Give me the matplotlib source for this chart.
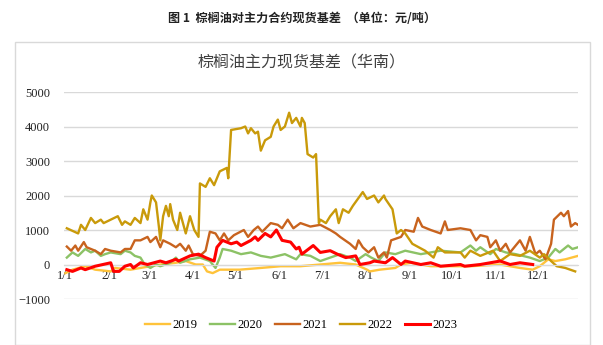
import numpy as np
import matplotlib
matplotlib.use('Agg')
import matplotlib.pyplot as plt
from matplotlib.patches import Rectangle

plt.rcParams['font.family'] = ['Noto Sans CJK SC', 'DejaVu Sans']

# x = day of year (0 = 1/1), y = basis value (yuan/ton)
d2019 = [0, 5, 14, 21, 32, 35, 46, 60, 67, 78, 85, 92, 97, 100, 104, 109, 123, 138, 152, 166, 180, 194, 205, 213, 215, 222, 233, 237, 244, 258, 286, 307, 321, 330, 335, 341, 346, 353, 362]
v2019 = [-250, -150, -50, -150, -200, -100, -150, -50, 0, 50, 100, 0, 0, -200, -250, -150, -150, -100, -50, -50, 0, 50, 0, -150, -200, -150, -100, 0, 50, -50, -50, 0, -100, -150, -50, 150, 100, 150, 250]

d2020 = [1, 5, 9, 14, 18, 21, 25, 28, 32, 39, 42, 46, 49, 53, 56, 60, 64, 67, 74, 78, 81, 88, 95, 102, 104, 106, 109, 111, 117, 124, 131, 138, 145, 155, 163, 166, 173, 180, 194, 201, 205, 212, 216, 221, 226, 233, 240, 251, 265, 279, 286, 290, 293, 300, 304, 311, 318, 328, 335, 341, 346, 349, 355, 358, 362]
v2020 = [200, 350, 250, 450, 350, 400, 250, 300, 350, 300, 400, 350, 250, 200, 0, -100, 0, -50, 50, 200, 50, 150, 200, 100, 0, -100, 200, 450, 400, 300, 350, 250, 200, 300, 150, 300, 250, 100, 300, 200, 100, 300, 200, 100, 350, 300, 400, 300, 400, 350, 550, 400, 500, 300, 450, 350, 300, 200, 100, 200, 450, 350, 550, 450, 500]

d2021 = [1, 4, 7, 9, 13, 15, 18, 21, 25, 28, 32, 39, 42, 46, 49, 53, 58, 60, 64, 67, 69, 74, 78, 81, 85, 87, 90, 95, 99, 102, 106, 109, 112, 115, 119, 126, 129, 133, 136, 139, 145, 150, 153, 157, 161, 166, 173, 180, 187, 191, 194, 201, 205, 207, 210, 214, 218, 221, 225, 227, 230, 237, 240, 246, 249, 252, 258, 265, 268, 270, 279, 286, 290, 293, 298, 300, 304, 307, 311, 314, 321, 325, 328, 332, 335, 339, 343, 345, 350, 352, 355, 357, 360, 362]
v2021 = [520, 400, 550, 400, 650, 500, 450, 400, 300, 450, 400, 350, 450, 450, 700, 700, 800, 650, 800, 500, 700, 600, 500, 600, 400, 550, 300, 250, 400, 950, 900, 700, 900, 700, 850, 1000, 800, 1000, 1100, 950, 1200, 1150, 1050, 1300, 1050, 1200, 1100, 1150, 1000, 900, 800, 600, 450, 700, 500, 350, 500, 200, 350, 200, 700, 800, 1000, 950, 1350, 1100, 1000, 900, 1250, 1000, 1050, 1000, 700, 850, 800, 500, 700, 400, 600, 350, 700, 400, 800, 300, 400, 150, 600, 1300, 1500, 1400, 1550, 1100, 1200, 1150]

d2022 = [1, 9, 11, 14, 18, 21, 25, 27, 37, 40, 42, 46, 49, 53, 55, 58, 60, 61, 64, 66, 67, 69, 71, 73, 74, 76, 79, 81, 85, 88, 91, 94, 95, 99, 102, 105, 109, 114, 115, 117, 124, 127, 129, 131, 134, 136, 138, 141, 145, 147, 150, 152, 155, 158, 160, 163, 166, 167, 169, 171, 175, 177, 179, 180, 184, 187, 191, 193, 196, 200, 203, 210, 213, 218, 221, 225, 226, 231, 234, 237, 240, 245, 254, 260, 263, 268, 279, 282, 286, 293, 302, 307, 314, 321, 328, 335, 338, 343, 347, 353, 360]
v2022 = [1050, 900, 1150, 1000, 1350, 1200, 1300, 1200, 1400, 1150, 1250, 1150, 1350, 1200, 1600, 1300, 1800, 2000, 1800, 1100, 700, 1400, 1700, 1400, 1750, 1300, 1000, 1500, 900, 1400, 1000, 800, 2350, 2250, 2500, 2300, 2700, 2800, 2500, 3900, 3950, 4000, 3800, 3950, 3800, 3850, 3300, 3600, 3700, 4000, 4200, 3900, 4000, 4400, 4100, 4250, 4000, 4250, 4100, 3200, 3100, 3200, 1200, 1300, 1200, 1400, 1600, 1200, 1600, 1500, 1700, 2100, 1900, 2000, 1800, 2000, 1900, 1600, 900, 1000, 900, 600, 400, 200, 500, 350, 350, 200, 400, 250, 400, 100, 300, 250, 400, 200, 300, 100, -50, -100, -200]

d2023 = [1, 5, 11, 14, 21, 32, 34, 38, 42, 46, 48, 53, 58, 67, 71, 78, 80, 88, 94, 99, 105, 107, 111, 117, 121, 124, 131, 134, 136, 141, 145, 149, 153, 159, 163, 165, 167, 175, 180, 187, 192, 198, 205, 208, 215, 218, 226, 231, 237, 240, 251, 258, 265, 279, 282, 293, 307, 314, 321, 330]
v2023 = [-150, -200, -100, -150, -50, 50, -200, -200, -50, 0, -100, 50, 0, 100, 50, 150, 100, 250, 300, 200, 100, 500, 700, 600, 650, 550, 700, 800, 700, 900, 800, 1000, 700, 650, 450, 500, 300, 550, 350, 400, 300, 200, 250, 0, 50, 100, 50, 200, 0, 100, 0, 50, -50, 0, -50, 0, 100, 0, 50, 0]

years = ['2019', '2020', '2021', '2022', '2023']
colors = ['#FFC33A', '#8CC266', '#C8631E', '#C99A0A', '#FF0000']
series = [(d2019, v2019), (d2020, v2020), (d2021, v2021), (d2022, v2022), (d2023, v2023)]

month_days = [0, 31, 59, 90, 120, 151, 181, 212, 243, 273, 304, 334]
month_labels = ['1/1', '2/1', '3/1', '4/1', '5/1', '6/1', '7/1', '8/1', '9/1', '10/1', '11/1', '12/1']
y_ticks = [-1000, 0, 1000, 2000, 3000, 4000, 5000]

fig = plt.figure(figsize=(6.03, 3.45), dpi=100)
fig.patches.append(Rectangle((15 / 603, 0.0), 575 / 603, 1 - 42 / 345, transform=fig.transFigure,
                             facecolor='white', edgecolor='#D9D9D9', linewidth=1.0, zorder=-1))
fig.text(0.5, 1 - 18 / 345, '图 1  棕榈油对主力合约现货基差  （单位：元/吨）', ha='center', va='center',
         fontsize=8.7, fontweight='bold', color='#222222')
fig.text(0.5, 1 - 63 / 345, '棕榈油主力现货基差（华南）', ha='center', va='center',
         fontsize=11.5, color='#404040')

ax = fig.add_axes([64 / 603, 1 - 299 / 345, 514 / 603, 207 / 345])
ax.patch.set_alpha(0)
for (d, v), y, c in zip(series, years, colors):
    lw = 2.2 if y == '2023' else 1.7
    ax.plot(d, v, color=c, linewidth=lw, label=y, zorder=3 if y == '2023' else 2)

ax.set_xlim(-1, 362)
ax.set_ylim(-1000, 5000)
ax.set_yticks(y_ticks)
ax.set_xticks(month_days)
ax.set_xticklabels(month_labels)
ax.grid(axis='y', color='#D9D9D9', linewidth=1.0)
ax.set_axisbelow(True)
for s in ['top', 'right', 'left']:
    ax.spines[s].set_visible(False)
ax.spines['bottom'].set_position(('data', 0))
ax.spines['bottom'].set_color('#D9D9D9')
ax.tick_params(length=0, labelsize=9, colors='#222222')
ax.tick_params(axis='x', pad=4)
ax.tick_params(axis='y', pad=10)
for lab in ax.get_xticklabels() + ax.get_yticklabels():
    lab.set_family('Liberation Serif')

leg = fig.legend(loc='center', bbox_to_anchor=(0.5, 1 - 325 / 345), ncol=5, frameon=False,
                 prop={'family': 'Liberation Serif', 'size': 9}, handlelength=2.0,
                 handletextpad=0.2, columnspacing=1.0)

fig.savefig('out.png', dpi=100)
